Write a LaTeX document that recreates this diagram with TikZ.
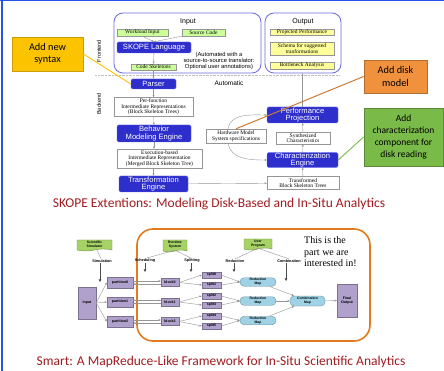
\documentclass[tikz,border=0pt]{standalone}
\usepackage{fontspec}
\setmainfont{Liberation Serif}
\setsansfont{Liberation Sans}
\newfontfamily\calibri{Carlito}
\usetikzlibrary{arrows.meta,shapes.symbols}

\definecolor{engine}{RGB}{46,46,204}
\definecolor{engineline}{RGB}{100,100,235}
\definecolor{panel}{RGB}{105,105,222}
\definecolor{leaf}{RGB}{204,255,153}
\definecolor{memo}{RGB}{255,255,153}
\definecolor{wire}{RGB}{150,150,150}
\definecolor{gold}{RGB}{252,196,0}
\definecolor{disk}{RGB}{240,145,62}
\definecolor{moss}{RGB}{122,186,72}
\definecolor{heading}{RGB}{160,28,32}
\definecolor{lilac}{RGB}{176,160,204}
\definecolor{sky}{RGB}{158,210,228}
\definecolor{sprout}{RGB}{166,210,102}
\definecolor{rim}{RGB}{226,122,32}
\definecolor{slide}{RGB}{40,80,235}

\tikzset{>={Triangle[length=2.2pt,width=1.8pt]},
  engine/.style={draw=engineline,fill=engine,text=white,rounded corners=1.5pt,inner sep=0,
    align=center,font=\sffamily\fontsize{7.6}{7.6}\selectfont},
  panel/.style={draw=panel,rounded corners=9pt,line width=0.8pt,inner sep=0},
  leafbox/.style={draw=wire,fill=leaf,inner sep=0,font=\fontsize{5.5}{6}\selectfont},
  memobox/.style={draw=wire,fill=memo,inner sep=0,align=center,font=\fontsize{5.5}{5.5}\selectfont},
  irbox/.style={draw=wire,fill=white,inner sep=0,align=center,font=\fontsize{5.5}{5.5}\selectfont},
  callout/.style={inner sep=0,align=center,line width=0.8pt,font=\calibri\fontsize{10.3}{12.5}\selectfont},
  flow/.style={draw=wire,line width=0.4pt,->},
  heavy/.style={draw=black!70,line width=1pt,-{Triangle[length=2.6pt,width=2.6pt]}},
  task/.style={draw=lilac!70!black,fill=lilac,inner sep=0,align=center,
    font=\sffamily\bfseries\fontsize{3.6}{4}\selectfont},
  redmap/.style={draw=sky!70!black,fill=sky,rounded corners=4pt,inner sep=0,align=center,
    font=\sffamily\bfseries\fontsize{3.4}{3.8}\selectfont},
  doc/.style={tape,tape bend top=none,tape bend height=2pt,draw=sprout!70!black,fill=sprout,
    inner sep=0,align=center,font=\sffamily\bfseries\fontsize{3.4}{3.8}\selectfont},
  phase/.style={inner sep=0.5pt,font=\sffamily\bfseries\fontsize{3.8}{4}\selectfont}}

\begin{document}
\begin{tikzpicture}[x=1pt,y=-1pt]
  \useasboundingbox[fill=white] (0,0) rectangle (444,371);
  \fill[slide] (0,0) rectangle (444,1.5);
  \fill[slide] (1,0) rectangle (2.8,371);

  % SKOPE framework
  \node[panel,minimum width=147pt,minimum height=60pt] (inpanel) at (187.5,43) {};
  \node[panel,minimum width=76pt,minimum height=60pt] (outpanel) at (303,43) {};
  \node[font=\sffamily\fontsize{7}{7}\selectfont] (intitle) at (188,21.5) {Input};
  \node[font=\sffamily\fontsize{7}{7}\selectfont] (outtitle) at (303,21.5) {Output};

  \node[leafbox,minimum width=51pt,minimum height=7pt] (workload) at (142.5,32.5) {Workload Input};
  \node[leafbox,minimum width=43pt,minimum height=7pt] (source) at (203.5,32.5) {Source Code};
  \node[engine,minimum width=74pt,minimum height=11pt] (skope) at (154,47.5) {SKOPE Language};
  \node[align=center,font=\sffamily\fontsize{5.8}{6}\selectfont] (translator) at (219,61)
    {(Automated with a\\source-to-source translator:\\Optional user annotations)};
  \node[leafbox,minimum width=45pt,minimum height=6pt] (skeleton) at (153.5,67) {Code Skeletons};

  \node[memobox,minimum width=64pt,minimum height=6pt] (projected) at (302,32) {Projected Performance};
  \node[memobox,minimum width=64pt,minimum height=13pt] (schema) at (302,48.5) {Schema for suggested\\tranformations};
  \node[memobox,minimum width=64pt,minimum height=7pt] (bottleneck) at (302,65.5) {Bottleneck Analysis};

  \coordinate (sepL) at (95,75);
  \coordinate (sepR) at (340,75);
  \draw[densely dotted,black!25] (sepL) -- (sepR);
  \node[rotate=90,font=\sffamily\fontsize{5.5}{5.5}\selectfont] (front) at (99,51) {Frontend};
  \node[rotate=90,font=\sffamily\fontsize{5.5}{5.5}\selectfont] (back) at (99,104) {Backend};
  \node[font=\sffamily\fontsize{6.5}{6.5}\selectfont] (automatic) at (229,83) {Automatic};

  \node[engine,minimum width=45pt,minimum height=10pt] (parser) at (153.5,84) {Parser};
  \node[irbox,minimum width=79pt,minimum height=19pt] (perfn) at (153.5,107)
    {Per-function\\Intermediate Representations\\(Block Skeleton Trees)};
  \node[engine,minimum width=74pt,minimum height=17pt] (bme) at (154,133.5) {Behavior\\Modeling Engine};
  \node[irbox,minimum width=85pt,minimum height=19pt] (exe) at (159.5,158.5)
    {Execution-based\\Intermediate Representation\\(Merged Block Skeleton Tree)};
  \node[engine,minimum width=69pt,minimum height=16pt] (trans) at (153.5,184) {Transformation\\Engine};

  \node[irbox,minimum width=72pt,minimum height=13pt] (tbst) at (303,183) {Transformed\\Block Skeleton Trees};
  \node[engine,minimum width=71pt,minimum height=14pt] (char) at (302.5,160) {Characterization\\Engine};
  \node[irbox,minimum width=54pt,minimum height=12pt] (synth) at (303,138) {Synthesized\\Characteristics};
  \node[engine,minimum width=71pt,minimum height=16pt] (pp) at (302.5,115) {Performance\\Projection};
  \node[irbox,minimum width=60pt,minimum height=14pt] (hw) at (236,136) {Hardware Model\\System specifications};

  \draw[flow] (workload.south) -- (skope.north);
  \draw[flow] (source.south west) -- (skope.north);
  \draw[flow] (skope) -- (skeleton);
  \draw[flow] (skeleton) -- (parser);
  \draw[flow] (parser) -- (perfn);
  \draw[flow] (perfn) -- (bme);
  \draw[flow] (bme) -- (bme |- exe.north);
  \draw[flow] (trans |- exe.south) -- (trans);
  \draw[flow] (trans) -- (tbst);
  \draw[flow] (tbst) -- (char);
  \draw[flow] (char) -- (synth);
  \draw[flow] (synth) -- (pp);
  \draw[flow] (pp) -- (pp |- outpanel.south);
  \draw[flow] ([xshift=-8pt]hw.north) to[out=80,in=180] (pp.west);
  \draw[flow] ([xshift=-8pt]hw.south) to[out=-80,in=180] (char.west);

  % extensions
  \node[callout,fill=gold,draw=gold!80!black,minimum width=71pt,minimum height=34pt] (syntax) at (47.5,54) {Add new\\syntax};
  \node[callout,fill=disk,draw=disk!75!black,minimum width=63pt,minimum height=33pt] (diskmodel) at (395.5,76.5) {Add disk\\model};
  \node[callout,fill=moss,draw=moss!75!black,minimum width=79pt,minimum height=58pt,
    font=\calibri\fontsize{9.5}{12}\selectfont] (diskread) at (403.5,137)
    {Add\\characterization\\component for\\disk reading};
  \draw[gold,line width=0.9pt] (syntax.east) -- (parser.west);
  \draw[disk!85!black,line width=1pt] (diskmodel.west) -- (hw.north);
  \draw[moss,line width=0.9pt] (diskread.west) -- (char.east);

  \node[anchor=base,text=heading,font=\calibri\fontsize{13.5}{13.5}\selectfont] (skopetitle) at (219,208)
    {SKOPE Extentions: Modeling Disk-Based and In-Situ Analytics};

  % Smart pipeline
  \node[draw=rim,line width=1.6pt,rounded corners=16pt,minimum width=233pt,minimum height=112pt,inner sep=0] (smartframe) at (253.5,285) {};
  \node[anchor=north west,align=left,inner sep=0,font=\fontsize{10}{11.5}\selectfont] (interest) at (304,236.5)
    {This is the\\part we are\\interested in!};

  \node[doc,minimum width=35pt,minimum height=11pt] (simulator) at (94.5,244.5) {Scientific\\Simulator};
  \node[doc,minimum width=24pt,minimum height=12pt] (runtime) at (175,245) {Runtime\\System};
  \node[doc,minimum width=28pt,minimum height=11pt] (program) at (258,243.5) {User\\Program};

  \node[phase] (simulation) at (102,261) {Simulation};
  \node[phase] (scheduling) at (145,261) {Scheduling};
  \node[phase] (splitting) at (192,261) {Splitting};
  \node[phase] (reduction) at (235,261) {Reduction};
  \node[phase] (combination) at (289,261) {Combination};
  \draw[wire,line width=0.4pt] (simulator) -- (simulation);
  \draw[wire,line width=0.4pt] (runtime.south) -- (scheduling.north);
  \draw[wire,line width=0.4pt] (runtime.south) -- (splitting.north);
  \draw[wire,line width=0.4pt] (program.south) -- (reduction.north);
  \draw[wire,line width=0.4pt] (program.south) -- (combination.north);

  \coordinate (simend) at (100,282);
  \coordinate (schend) at (145,272);
  \coordinate (splend) at (191,272);
  \coordinate (redend) at (234,272);
  \coordinate (comend) at (286,281);
  \draw[heavy] (simulation.south -| simend) -- (simend);
  \draw[heavy] (scheduling.south -| schend) -- (schend);
  \draw[heavy] (splitting.south -| splend) -- (splend);
  \draw[heavy] (reduction.south -| redend) -- (redend);
  \draw[heavy] (combination.south -| comend) -- (comend);

  \node[task,minimum width=18pt,minimum height=32pt] (input) at (87,303) {input};
  \foreach \i/\y in {0/282.5,1/302,2/321.5} {
    \node[task,minimum width=26pt,minimum height=10.5pt] (part\i) at (120,\y) {partition\i};
    \node[task,minimum width=18pt,minimum height=8pt] (blk\i) at (170,\y) {block\i};
    \draw[flow] (input.east) -- (part\i.west);
    \draw[flow] ([yshift=1.5pt]part\i.east) -- ([yshift=1.5pt]blk\i.west);
    \draw[flow] ([yshift=-1.5pt]blk\i.west) -- ([yshift=-1.5pt]part\i.east);
  }
  \foreach \s/\y in {0/275,1/285,2/296,3/305,4/316,5/326}
    \node[task,minimum width=19pt,minimum height=6pt] (split\s) at (211.5,\y) {split\s};
  \foreach \i/\y in {0/282,1/301,2/320.5}
    \node[redmap,minimum width=36pt,minimum height=8.5pt] (red\i) at (258,\y) {Reduction\\Map};
  \node[redmap,minimum width=35pt,minimum height=10pt] (comb) at (307.5,301) {Combination\\Map};
  \node[task,minimum width=20pt,minimum height=33pt] (final) at (347,300.5) {Final\\Output};

  \foreach \b/\s/\t in {0/0/1,1/2/3,2/4/5} {
    \draw[flow] (blk\b.east) -- (split\s.west);
    \draw[flow] (blk\b.east) -- (split\t.west);
    \draw[flow] (split\s.east) -- (red\b.west);
    \draw[flow] (split\t.east) -- (red\b.west);
    \draw[flow] (red\b) -- (comb);
  }
  \draw[flow] (comb) -- (final);

  \node[anchor=base,text=heading,font=\calibri\fontsize{13.5}{13.5}\selectfont] (smarttitle) at (221,365)
    {Smart: A MapReduce-Like Framework for In-Situ Scientific Analytics};
\end{tikzpicture}
\end{document}
